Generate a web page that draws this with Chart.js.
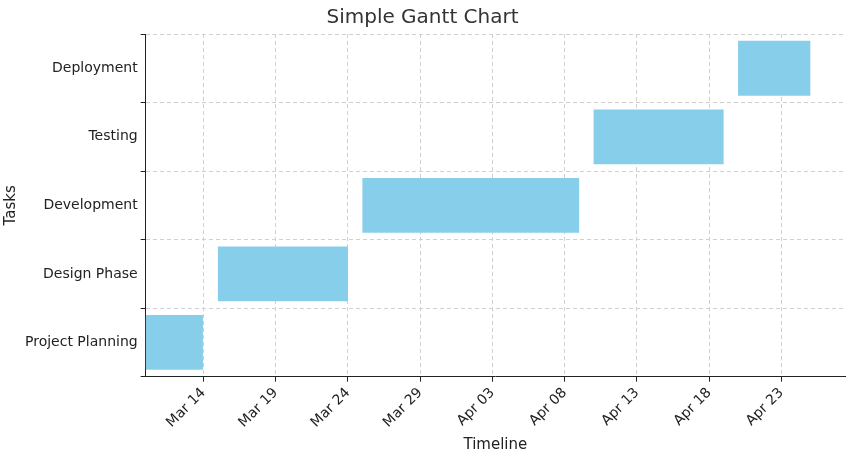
<!DOCTYPE html>
<html>
<head>
<meta charset="utf-8">
<script src="https://cdn.jsdelivr.net/npm/chart.js@4.4.0/dist/chart.umd.min.js"></script>
<style>
  html, body { margin: 0; padding: 0; background: #fff; }
  #wrap { width: 847px; height: 460px; }
</style>
</head>
<body>
<div id="wrap"><canvas id="gantt"></canvas></div>
<script>
// Tasks listed top to bottom
const tasks = ['Deployment', 'Testing', 'Development', 'Design Phase', 'Project Planning'];
// Start / end as days counted from Mar 14
const taskStart = [37, 27, 11, 1, -4];
const taskEnd = [42, 36, 26, 10, 0];
const tickDays = [0, 5, 10, 15, 20, 25, 30, 35, 40];
const tickLabels = ['Mar 14', 'Mar 19', 'Mar 24', 'Mar 29', 'Apr 03', 'Apr 08', 'Apr 13', 'Apr 18', 'Apr 23'];

const font = 'DejaVu Sans';
const textColor = '#222';

new Chart(document.getElementById('gantt'), {
    type: 'bar',
    data: {
        labels: tasks,
        datasets: [{
            data: tasks.map((t, i) => [taskStart[i], taskEnd[i]]),
            backgroundColor: '#87CEEB',
            borderWidth: 0,
            barPercentage: 0.8,
            categoryPercentage: 1.0
        }]
    },
    options: {
        indexAxis: 'y',
        responsive: true,
        maintainAspectRatio: false,
        animation: false,
        layout: { padding: { top: 0, right: 2, bottom: 4, left: 0 } },
        scales: {
            x: {
                type: 'linear',
                min: -4,
                max: 44.4,
                afterBuildTicks: function(axis) {
                    axis.ticks = tickDays.map(v => ({ value: v }));
                },
                ticks: {
                    callback: function(value) {
                        const i = tickDays.indexOf(value);
                        return i >= 0 ? tickLabels[i] : '';
                    },
                    maxRotation: 45,
                    minRotation: 45,
                    color: textColor,
                    font: { family: font, size: 14 }
                },
                grid: { color: '#d0d0d0', tickColor: '#222', tickLength: 5 },
                border: { color: '#222', dash: [4, 3] },
                title: { display: true, text: 'Timeline', color: textColor, font: { family: font, size: 15 }, padding: 2 }
            },
            y: {
                ticks: { color: textColor, font: { family: font, size: 14 } },
                grid: { color: '#d0d0d0', tickColor: '#222', tickLength: 5 },
                border: { color: '#222', dash: [4, 3] },
                title: { display: true, text: 'Tasks', color: textColor, font: { family: font, size: 15 }, padding: 2 }
            }
        },
        plugins: {
            legend: { display: false },
            tooltip: { enabled: false },
            title: {
                display: true,
                text: 'Simple Gantt Chart',
                color: '#333',
                font: { family: font, size: 20, weight: 'normal' },
                padding: { top: 6, bottom: 4 }
            }
        }
    }
});
</script>
</body>
</html>
